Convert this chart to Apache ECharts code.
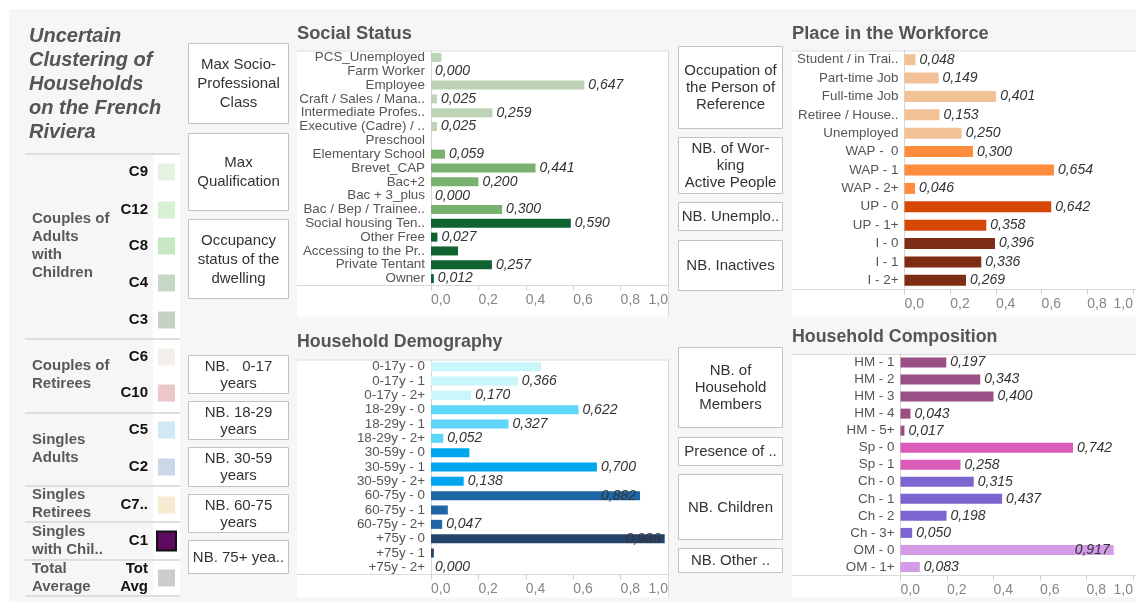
<!DOCTYPE html>
<html><head><meta charset="utf-8">
<script src="https://cdn.jsdelivr.net/npm/echarts@6/dist/echarts.min.js"></script>
<style>html,body{margin:0;padding:0;background:#fff}#c{width:1136px;height:602px}</style>
</head><body><div id="c"></div>
<script>
// ---------- DATA ----------
const socialCategories = ['PCS_Unemployed','Farm Worker','Employee','Craft / Sales / Mana..','Intermediate Profes..','Executive (Cadre) / ..','Preschool','Elementary School','Brevet_CAP','Bac+2','Bac + 3_plus','Bac / Bep / Trainee..','Social housing Ten..','Other Free','Accessing to the Pr..','Private Tentant','Owner'];
const socialValues = [0.044, 0.000, 0.647, 0.025, 0.259, 0.025, null, 0.059, 0.441, 0.200, 0.000, 0.300, 0.590, 0.027, 0.114, 0.257, 0.012];
const socialGroups = [0,0,0,0,0,0,1,1,1,1,1,1,2,2,2,2,2];
const socialUnlabeled = ['PCS_Unemployed','Preschool','Accessing to the Pr..'];

const demoCategories = ['0-17y - 0','0-17y - 1','0-17y - 2+','18-29y - 0','18-29y - 1','18-29y - 2+','30-59y - 0','30-59y - 1','30-59y - 2+','60-75y - 0','60-75y - 1','60-75y - 2+','+75y - 0','+75y - 1','+75y - 2+'];
const demoValues = [0.464, 0.366, 0.170, 0.622, 0.327, 0.052, 0.162, 0.700, 0.138, 0.882, 0.071, 0.047, 0.986, 0.012, 0.000];
const demoGroups = [0,0,0,1,1,1,2,2,2,3,3,3,4,4,4];
const demoUnlabeled = ['0-17y - 0','30-59y - 0','60-75y - 1','+75y - 1'];

const workCategories = ['Student / in Trai..','Part-time Job','Full-time Job','Retiree / House..','Unemployed','WAP -  0','WAP - 1','WAP - 2+','UP - 0','UP - 1+','I - 0','I - 1','I - 2+'];
const workValues = [0.048, 0.149, 0.401, 0.153, 0.250, 0.300, 0.654, 0.046, 0.642, 0.358, 0.396, 0.336, 0.269];
const workGroups = [0,0,0,0,0,1,1,1,2,2,3,3,3];
const workUnlabeled = [];

const compCategories = ['HM - 1','HM - 2','HM - 3','HM - 4','HM - 5+','Sp - 0','Sp - 1','Ch - 0','Ch - 1','Ch - 2','Ch - 3+','OM - 0','OM - 1+'];
const compValues = [0.197, 0.343, 0.400, 0.043, 0.017, 0.742, 0.258, 0.315, 0.437, 0.198, 0.050, 0.917, 0.083];
const compGroups = [0,0,0,0,0,1,1,2,2,2,2,3,3];
const compUnlabeled = [];

const xTicks = [0, 0.2, 0.4, 0.6, 0.8, 1.0];

const panelTitles = ['Social Status','Household Demography','Place in the Workforce','Household Composition'];
const mainTitle = 'Uncertain\nClustering of\nHouseholds\non the French\nRiviera';

const legendGroupNames = ['Couples of\nAdults\nwith\nChildren','Couples of\nRetirees','Singles\nAdults','Singles\nRetirees','Singles\nwith Chil..','Total\nAverage'];
const legendClusters = ['C9','C12','C8','C4','C3','C6','C10','C5','C2','C7..','C1','Tot\nAvg'];

const leftBoxTexts = ['Max Socio-\nProfessional\nClass','Max\nQualification','Occupancy\nstatus of the\ndwelling','NB.   0-17\nyears','NB. 18-29\nyears','NB. 30-59\nyears','NB. 60-75\nyears','NB. 75+ yea..'];
const midBoxTexts = ['Occupation of\nthe Person of\nReference','NB. of Wor-\nking\nActive People','NB. Unemplo..','NB. Inactives','NB. of\nHousehold\nMembers','Presence of ..','NB. Children','NB. Other ..'];

// ---------- STYLE / LAYOUT ----------
const FONT = '"Liberation Sans", Arial, sans-serif';
const palettes = [
  ['#bdd3b5','#79b26f','#0e6331'],
  ['#c8f6fa','#5dd6f9','#00a7f0','#1e66a6','#25436b'],
  ['#f3c196','#fd8d3c','#d64604','#7e2c13'],
  ['#9a5085','#da5bba','#7c65d1','#d49be9']
];
const legendColors = ['#e6f2e0','#d7f0d1','#c7e6c4','#c4d8c6','#c6d1c6','#f3eee9','#ecc7c9','#d2e8f5','#c8d8e6','#f5ebd0','#5e0a5e','#cccccc'];
const legendRowY = [172,210,246,283,320,357,393,430,467,505,541,578];
const legendGroupY = [246,375,449,504,541,578];
const legendSepY = [154,339,413,486,522,560,596];
const leftBoxRects = [[188,43,100,80],[188,133,100,77],[188,219,100,79],[188,355,100,38],[188,401,100,38],[188,447,100,39],[188,494,100,38],[188,540,100,33]];
const midBoxRects = [[678,46,104,82],[678,137,104,56],[678,202,104,28],[678,240,104,50],[678,347,104,80],[678,437,104,28],[678,474,104,65],[678,548,104,24]];

// panels: [panelX, panelY, panelW, panelH, gridLeft, gridTop, gridH, barW, titleY]
const panels = [
  [297, 50.5, 372, 266, 431, 50.5, 235, 9, 34],
  [297, 359.5, 372, 238, 431, 359.5, 215, 9, 342],
  [792, 50.5, 360, 266, 904.5, 50.5, 239, 11, 34],
  [792, 354, 360, 243, 900.5, 354, 221.5, 10, 337]
];
const barSets = [
  [socialCategories, socialValues, socialGroups, socialUnlabeled],
  [demoCategories, demoValues, demoGroups, demoUnlabeled],
  [workCategories, workValues, workGroups, workUnlabeled],
  [compCategories, compValues, compGroups, compUnlabeled]
];
const fmt3 = v => v.toFixed(3).replace('.', ',');
const fmt1 = v => v.toFixed(1).replace('.', ',');

const grids = [], xAxes = [], yAxes = [], series = [], graphics = [];

// page background
graphics.push({type:'rect', shape:{x:0,y:0,width:1136,height:602}, style:{fill:'#ffffff'}, z:-20, silent:true});
graphics.push({type:'rect', shape:{x:9,y:9,width:1127,height:593}, style:{fill:'#f6f6f6'}, z:-19, silent:true});

panels.forEach((p, i) => {
  const [px, py, pw, ph, gl, gt, gh, bw, ty] = p;
  const [cats, vals, groups, unl] = barSets[i];
  graphics.push({type:'rect', shape:{x:px,y:py,width:pw,height:ph}, style:{fill:'#ffffff'}, z:-10, silent:true});
  graphics.push({type:'line', shape:{x1:px,y1:py+0.5,x2:px+pw,y2:py+0.5}, style:{stroke:'#dadada',lineWidth:1}, z:50, silent:true});
  graphics.push({type:'line', shape:{x1:px,y1:gt+gh,x2:px+pw,y2:gt+gh}, style:{stroke:'#dadada',lineWidth:1}, z:50, silent:true});
  if (i < 2) graphics.push({type:'line', shape:{x1:gl+237.5,y1:py,x2:gl+237.5,y2:py+ph}, style:{stroke:'#dadada',lineWidth:1}, z:50, silent:true});
  graphics.push({type:'text', x:px, y:ty, style:{text:panelTitles[i], font:'bold ' + (i % 2 ? '17.8px ' : '18.3px ') + FONT, fill:'#555555', textAlign:'left', textVerticalAlign:'middle', align:'left', verticalAlign:'middle'}, z:50, silent:true});

  grids.push({left: gl, top: gt, width: 237, height: gh, containLabel:false});
  xAxes.push({type:'value', gridIndex:i, min:0, max:1, interval:0.2,
    axisLine:{show:false}, splitLine:{show:false},
    axisTick:{show:true, length:5, lineStyle:{color:'#cfcfcf'}},
    axisLabel:{formatter: v => fmt1(v), color:'#858585', fontSize:14, fontFamily:FONT, margin:8, align:'left', alignMaxLabel:'right'}
  });
  yAxes.push({type:'category', gridIndex:i, data:cats, inverse:true,
    axisLine:{show:true, lineStyle:{color:'#d6d6d6'}}, axisTick:{show:false},
    axisLabel:{color:'#555555', fontSize:13.4, fontFamily:FONT, margin:6, interval:0}
  });
  series.push({type:'bar', xAxisIndex:i, yAxisIndex:i, barWidth:bw, animation:false,
    label:{fontStyle:'italic', fontSize:14, color:'#333333', fontFamily:FONT, formatter: q => fmt3(q.value)},
    data: vals.map((v, k) => ({
      value: v,
      itemStyle:{color: palettes[i][groups[k]]},
      label:{show: v !== null && unl.indexOf(cats[k]) < 0, position: (v !== null && v > 0.85) ? 'insideRight' : 'right', distance: 4}
    }))
  });
});

// main title
graphics.push({type:'text', x:29, y:84, style:{text:mainTitle, font:'italic bold 20px ' + FONT, fill:'#555555', lineHeight:24, textAlign:'left', textVerticalAlign:'middle', align:'left', verticalAlign:'middle'}, z:50, silent:true});

// legend
graphics.push({type:'rect', shape:{x:153,y:155,width:27,height:441}, style:{fill:'#ffffff'}, z:-10, silent:true});
legendSepY.forEach(y => graphics.push({type:'line', shape:{x1:25,y1:y,x2:180,y2:y}, style:{stroke:'#dedede',lineWidth:2}, z:50, silent:true}));
legendGroupNames.forEach((t, i) => graphics.push({type:'text', x:32, y:legendGroupY[i], style:{text:t, font:'bold 15px ' + FONT, fill:'#5a5a5a', lineHeight:18, textAlign:'left', textVerticalAlign:'middle', align:'left', verticalAlign:'middle'}, z:50, silent:true}));
legendClusters.forEach((t, i) => {
  const y = legendRowY[i];
  graphics.push({type:'text', x:148, y:y, style:{text:t, font:'bold 15px ' + FONT, fill:'#111111', lineHeight:18, textAlign:'right', textVerticalAlign:'middle', align:'right', verticalAlign:'middle'}, z:50, silent:true});
  if (t === 'C1') {
    graphics.push({type:'rect', shape:{x:157,y:y-9.5,width:19,height:19}, style:{fill:legendColors[i], stroke:'#111111', lineWidth:2}, z:50, silent:true});
  } else {
    graphics.push({type:'rect', shape:{x:158,y:y-8.5,width:17,height:17}, style:{fill:legendColors[i]}, z:50, silent:true});
  }
});

// filter boxes
function addBox(r, t, lh) {
  graphics.push({type:'rect', shape:{x:r[0]+0.5,y:r[1]+0.5,width:r[2],height:r[3]}, style:{fill:'#ffffff', stroke:'#c6c2ba', lineWidth:1}, z:40, silent:true});
  graphics.push({type:'text', x:r[0]+r[2]/2+0.5, y:r[1]+r[3]/2+1, style:{text:t, font:'15px ' + FONT, fill:'#333333', lineHeight:lh, textAlign:'center', textVerticalAlign:'middle', align:'center', verticalAlign:'middle'}, z:50, silent:true});
}
leftBoxTexts.forEach((t, i) => addBox(leftBoxRects[i], t, i < 3 ? 19 : 17));
midBoxTexts.forEach((t, i) => addBox(midBoxRects[i], t, 17));

const chart = echarts.init(document.getElementById('c'), null, {renderer:'canvas'});
chart.setOption({
  animation:false,
  backgroundColor:'#ffffff',
  grid: grids, xAxis: xAxes, yAxis: yAxes, series: series,
  graphic: {elements: graphics}
});
</script></body></html>
